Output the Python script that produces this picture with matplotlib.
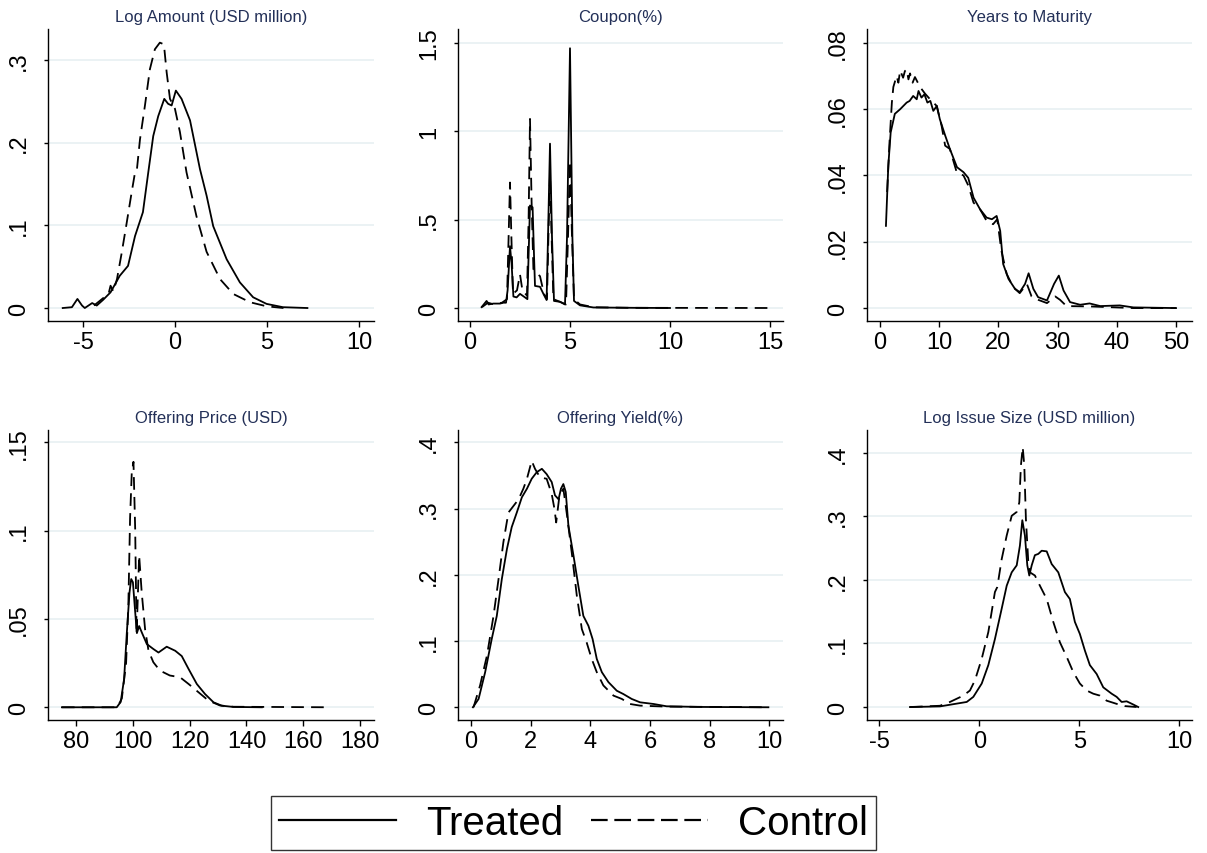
"""Kernel density comparison of bond characteristics, treated vs control."""

import matplotlib

matplotlib.use("Agg")

import matplotlib.pyplot as plt
from matplotlib.lines import Line2D

plt.rcParams["font.family"] = ["Liberation Sans", "DejaVu Sans"]
plt.rcParams["axes.unicode_minus"] = False

# Log Amount (USD million)
amount_treated_x = [-6.1, -5.6, -5.3, -5.05, -4.9, -4.5, -4.25, -3.9, -3.5, -3.0, -2.55, -2.17,
                    -1.74, -1.45, -1.18, -0.91, -0.58, -0.37, -0.18, 0.05, 0.36, 0.82, 1.36, 1.72,
                    2.08, 2.81, 3.53, 4.25, 4.98, 5.87, 7.2]
amount_treated_y = [0.0, 0.001, 0.011, 0.003, 0.0, 0.006, 0.003, 0.01, 0.019, 0.039, 0.051, 0.087,
                    0.116, 0.164, 0.208, 0.232, 0.253, 0.247, 0.245, 0.263, 0.253, 0.227, 0.168, 0.136,
                    0.099, 0.059, 0.031, 0.013, 0.005, 0.001, 0.0]
amount_control_x = [-4.4, -3.9, -3.6, -3.5, -3.35, -3.15, -2.9, -2.63, -2.36, -2.17, -2.07, -1.9,
                    -1.63, -1.36, -1.09, -0.82, -0.6, -0.45, -0.27, 0.0, 0.27, 0.63, 1.17, 1.72,
                    2.45, 3.17, 4.08, 5.0, 5.9]
amount_control_y = [0.003, 0.012, 0.018, 0.027, 0.02, 0.035, 0.066, 0.102, 0.139, 0.164, 0.167, 0.204,
                    0.245, 0.289, 0.313, 0.321, 0.319, 0.285, 0.253, 0.241, 0.213, 0.164, 0.111, 0.068,
                    0.035, 0.017, 0.007, 0.002, 0.0]

# Coupon(%)
coupon_treated_x = [0.58, 0.83, 0.93, 1.17, 1.5, 1.67, 1.8, 1.88, 2.0, 2.08, 2.17, 2.33, 2.5, 2.75,
                    2.87, 2.93, 3.0, 3.13, 3.2, 3.25, 3.5, 3.67, 3.83, 3.9, 4.0, 4.1, 4.2, 4.5, 4.75,
                    4.85, 5.0, 5.12, 5.2, 5.5, 6.17, 8.2, 10.0]
coupon_treated_y = [0.005, 0.04, 0.02, 0.025, 0.025, 0.03, 0.03, 0.1, 0.35, 0.25, 0.065, 0.06, 0.08,
                    0.06, 0.05, 0.3, 0.58, 0.57, 0.3, 0.125, 0.12, 0.08, 0.045, 0.4, 0.93, 0.4, 0.04,
                    0.035, 0.02, 0.4, 1.47, 0.4, 0.04, 0.015, 0.003, 0.001, 0.0]
coupon_control_x = [0.6, 0.9, 1.2, 1.6, 1.85, 1.93, 2.0, 2.07, 2.15, 2.35, 2.5, 2.62, 2.85, 2.93,
                    3.0, 3.08, 3.17, 3.3, 3.5, 3.7, 3.85, 3.92, 4.0, 4.08, 4.17, 4.5, 4.8, 4.9, 5.0,
                    5.1, 5.2, 5.5, 6.2, 8.0, 15.0]
coupon_control_y = [0.005, 0.03, 0.02, 0.03, 0.05, 0.4, 0.71, 0.4, 0.08, 0.1, 0.19, 0.1, 0.07, 0.5,
                    1.07, 0.6, 0.22, 0.2, 0.18, 0.08, 0.05, 0.4, 0.76, 0.4, 0.05, 0.035, 0.02, 0.4,
                    0.83, 0.4, 0.05, 0.02, 0.004, 0.001, 0.0]

# Years to Maturity
maturity_treated_x = [1.0, 1.4, 1.8, 2.5, 3.4, 4.5, 5.0, 5.6, 6.2, 6.5, 7.0, 7.5, 8.0, 8.5, 9.0,
                      9.6, 10.1, 11.0, 11.8, 13.0, 14.1, 14.9, 15.8, 16.9, 18.0, 18.9, 19.7, 20.3,
                      20.8, 21.7, 22.8, 23.6, 24.5, 25.1, 25.9, 26.7, 28.2, 29.4, 30.2, 31.0, 32.1,
                      33.8, 35.4, 37.2, 40.5, 42.8, 50.0]
maturity_treated_y = [0.0248, 0.043, 0.053, 0.0586, 0.060, 0.062, 0.0625, 0.064, 0.063, 0.0655,
                      0.0635, 0.0645, 0.062, 0.0625, 0.0595, 0.061, 0.057, 0.0521, 0.048, 0.0425,
                      0.041, 0.0393, 0.0333, 0.0298, 0.0273, 0.0268, 0.0278, 0.0233, 0.0133, 0.0088,
                      0.0058, 0.0048, 0.0073, 0.0105, 0.0058, 0.0033, 0.0023, 0.0073, 0.0098, 0.0053,
                      0.0018, 0.001, 0.0014, 0.0006, 0.0008, 0.0002, 0.0]
maturity_control_x = [1.2, 1.6, 2.0, 2.25, 2.8, 3.1, 3.4, 3.9, 4.2, 4.5, 4.8, 5.07, 5.5, 5.9, 6.76,
                      7.6, 8.45, 9.57, 10.4, 11.0, 11.8, 12.95, 14.1, 14.9, 15.8, 16.9, 18.0, 19.1,
                      19.8, 20.5, 21.4, 22.5, 23.6, 24.8, 25.6, 26.7, 28.2, 29.6, 30.4, 31.5, 35.4,
                      42.8, 50.0]
maturity_control_y = [0.035, 0.05, 0.062, 0.0667, 0.070, 0.068, 0.0717, 0.0695, 0.0715, 0.072,
                      0.069, 0.0708, 0.068, 0.0697, 0.0667, 0.0647, 0.063, 0.061, 0.055, 0.049,
                      0.048, 0.041, 0.040, 0.037, 0.0318, 0.0298, 0.0263, 0.0253, 0.0268, 0.0173,
                      0.0103, 0.0063, 0.0045, 0.0073, 0.0035, 0.0025, 0.0015, 0.0035, 0.0025, 0.0006,
                      0.0005, 0.0, 0.0]

# Offering Price (USD)
price_treated_x = [75.0, 94.3, 95.7, 96.9, 97.85, 98.8, 99.4, 100.0, 100.8, 101.4, 102.2, 103.1,
                   104.9, 107.2, 109.0, 111.9, 114.9, 117.2, 119.6, 122.5, 125.4, 128.4, 131.3,
                   135.4, 145.4]
price_treated_y = [0.0, 0.0, 0.003, 0.016, 0.042, 0.065, 0.0726, 0.0708, 0.054, 0.042, 0.046, 0.0425,
                   0.0358, 0.033, 0.031, 0.0343, 0.032, 0.029, 0.0217, 0.0132, 0.0075, 0.0028,
                   0.0009, 0.0002, 0.0]
price_control_x = [75.0, 94.5, 96.1, 97.6, 98.4, 99.0, 99.6, 100.2, 100.8, 101.3, 102.2, 103.1,
                   104.3, 105.5, 107.2, 109.5, 113.0, 116.6, 119.6, 123.1, 126.6, 130.7, 135.4, 169.4]
price_control_y = [0.0, 0.0, 0.005, 0.025, 0.058, 0.107, 0.133, 0.139, 0.101, 0.0415, 0.086, 0.065,
                   0.044, 0.032, 0.0255, 0.0208, 0.018, 0.017, 0.0132, 0.0085, 0.0038, 0.001,
                   0.0003, 0.0]

# Offering Yield(%)
yield_treated_x = [0.07, 0.26, 0.48, 0.70, 0.87, 1.04, 1.21, 1.37, 1.54, 1.71, 1.88, 2.04, 2.21,
                   2.38, 2.54, 2.71, 2.82, 2.94, 3.02, 3.10, 3.18, 3.27, 3.44, 3.60, 3.77, 3.94,
                   4.08, 4.22, 4.39, 4.61, 4.89, 5.11, 5.39, 5.67, 6.12, 6.56, 7.68, 9.97]
yield_treated_y = [0.0, 0.0126, 0.053, 0.103, 0.138, 0.194, 0.239, 0.272, 0.294, 0.317, 0.330,
                   0.345, 0.355, 0.36, 0.352, 0.340, 0.32, 0.314, 0.33, 0.337, 0.325, 0.274, 0.229,
                   0.184, 0.138, 0.123, 0.103, 0.073, 0.053, 0.038, 0.025, 0.020, 0.0126, 0.0075,
                   0.005, 0.0015, 0.0005, 0.0]
yield_control_x = [0.09, 0.31, 0.54, 0.76, 0.93, 1.09, 1.26, 1.43, 1.60, 1.76, 1.88, 2.04, 2.15,
                   2.32, 2.54, 2.71, 2.80, 2.86, 2.97, 3.10, 3.21, 3.38, 3.55, 3.72, 3.88, 4.05,
                   4.22, 4.44, 4.78, 5.06, 5.33, 5.67, 6.56, 9.97]
yield_control_y = [0.0, 0.033, 0.078, 0.138, 0.194, 0.249, 0.294, 0.304, 0.314, 0.330, 0.345,
                   0.372, 0.36, 0.347, 0.345, 0.322, 0.30, 0.279, 0.32, 0.33, 0.294, 0.234, 0.169,
                   0.118, 0.098, 0.073, 0.053, 0.033, 0.0176, 0.0126, 0.005, 0.0025, 0.001, 0.0]

# Log Issue Size (USD million)
size_treated_x = [-3.47, -1.97, -0.63, -0.3, 0.12, 0.45, 0.78, 1.12, 1.37, 1.62, 1.87, 2.03, 2.15,
                  2.28, 2.4, 2.5, 2.62, 2.78, 2.95, 3.12, 3.37, 3.62, 3.95, 4.28, 4.53, 4.78, 5.03,
                  5.28, 5.53, 5.87, 6.2, 6.62, 6.87, 7.12, 7.37, 7.7, 7.95]
size_treated_y = [0.0, 0.001, 0.008, 0.016, 0.037, 0.066, 0.107, 0.155, 0.191, 0.212, 0.223, 0.254,
                  0.294, 0.27, 0.223, 0.207, 0.223, 0.239, 0.241, 0.246, 0.245, 0.225, 0.212, 0.181,
                  0.170, 0.134, 0.115, 0.089, 0.066, 0.052, 0.031, 0.021, 0.016, 0.008, 0.009,
                  0.004, 0.0]
size_control_x = [-3.47, -1.97, -1.47, -0.8, -0.47, -0.22, 0.12, 0.45, 0.78, 0.9, 1.12, 1.37, 1.62,
                  1.87, 2.0, 2.08, 2.17, 2.25, 2.33, 2.45, 2.53, 2.78, 3.03, 3.37, 3.7, 4.03, 4.37,
                  4.7, 5.03, 5.37, 5.7, 6.03, 6.37, 6.87, 7.28, 7.87]
size_control_y = [0.0, 0.002, 0.008, 0.018, 0.026, 0.042, 0.076, 0.118, 0.181, 0.189, 0.233, 0.270,
                  0.301, 0.307, 0.322, 0.38, 0.409, 0.38, 0.296, 0.228, 0.212, 0.207, 0.191, 0.170,
                  0.134, 0.102, 0.079, 0.055, 0.037, 0.026, 0.021, 0.018, 0.010, 0.005, 0.0015,
                  0.0]

titles = ["Log Amount (USD million)", "Coupon(%)", "Years to Maturity",
          "Offering Price (USD)", "Offering Yield(%)", "Log Issue Size (USD million)"]

x_ticks = [[-5, 0, 5, 10], [0, 5, 10, 15], [0, 10, 20, 30, 40, 50],
           [80, 100, 120, 140, 160, 180], [0, 2, 4, 6, 8, 10], [-5, 0, 5, 10]]
y_ticks = [[0, 0.1, 0.2, 0.3], [0, 0.5, 1.0, 1.5], [0, 0.02, 0.04, 0.06, 0.08],
           [0, 0.05, 0.1, 0.15], [0, 0.1, 0.2, 0.3, 0.4], [0, 0.1, 0.2, 0.3, 0.4]]
y_tick_labels = [["0", ".1", ".2", ".3"], ["0", ".5", "1", "1.5"],
                 ["0", ".02", ".04", ".06", ".08"], ["0", ".05", ".1", ".15"],
                 ["0", ".1", ".2", ".3", ".4"], ["0", ".1", ".2", ".3", ".4"]]

treated = [(amount_treated_x, amount_treated_y), (coupon_treated_x, coupon_treated_y),
           (maturity_treated_x, maturity_treated_y), (price_treated_x, price_treated_y),
           (yield_treated_x, yield_treated_y), (size_treated_x, size_treated_y)]
control = [(amount_control_x, amount_control_y), (coupon_control_x, coupon_control_y),
           (maturity_control_x, maturity_control_y), (price_control_x, price_control_y),
           (yield_control_x, yield_control_y), (size_control_x, size_control_y)]

# Axis ranges as Stata drew them
x_limits = [(-6.9, 10.82), (-0.6, 15.65), (-2.2, 52.7), (70.1, 184.9), (-0.43, 10.46), (-5.62, 10.64)]
y_limits = [(-0.0157, 0.3375), (-0.0736, 1.579), (-0.0039, 0.0842),
            (-0.0072, 0.157), (-0.0192, 0.4186), (-0.0204, 0.436)]

W, H = 1207, 854
fig = plt.figure(figsize=(W / 100, H / 100), dpi=100)

# Panel boxes in pixels: left, right, top, bottom
col_edges = [(48, 374), (458, 783), (867, 1192)]
row_edges = [(30, 322), (431, 721)]

TITLE_COLOR = "#233058"
GRID_COLOR = "#e8f0f2"
DASHES = (7, 4)

for i in range(6):
    (left, right) = col_edges[i % 3]
    (top, bottom) = row_edges[i // 3]
    ax = fig.add_axes([left / W, 1 - bottom / H, (right - left) / W, (bottom - top) / H])

    ax.plot(*treated[i], color="black", linewidth=1.3, solid_joinstyle="round")
    ax.plot(*control[i], color="black", linewidth=1.3, linestyle=(0, DASHES))

    ax.set_xlim(*x_limits[i])
    ax.set_ylim(*y_limits[i])
    ax.set_xticks(x_ticks[i])
    ax.set_yticks(y_ticks[i])
    ax.set_yticklabels(y_tick_labels[i], rotation=90, va="center")

    ax.grid(axis="y", color=GRID_COLOR, linewidth=1.2)
    ax.set_axisbelow(True)
    for side in ("top", "right"):
        ax.spines[side].set_visible(False)
    for side in ("left", "bottom"):
        ax.spines[side].set_linewidth(1.0)
    ax.tick_params(axis="x", labelsize=17, length=4, width=1.0, pad=3)
    ax.tick_params(axis="y", labelsize=17, length=3, width=1.0, pad=10)

    ax.set_title(titles[i], fontsize=12, color=TITLE_COLOR, pad=6)

# Shared legend at the bottom
handles = [
    Line2D([], [], color="black", linewidth=1.6),
    Line2D([], [], color="black", linewidth=1.6, linestyle=(0, (7.5, 3))),
]
leg = fig.legend(
    handles,
    ["Treated", "Control"],
    loc="center",
    bbox_to_anchor=(573.5 / W, 1 - 824 / H),
    ncol=2,
    fontsize=29,
    frameon=True,
    fancybox=False,
    edgecolor="black",
    handlelength=2.9,
    handletextpad=0.75,
    columnspacing=0.7,
    borderpad=0.2,
    borderaxespad=0,
)
leg.get_frame().set_linewidth(1.0)

fig.savefig("out.png", dpi=100)
plt.close(fig)
